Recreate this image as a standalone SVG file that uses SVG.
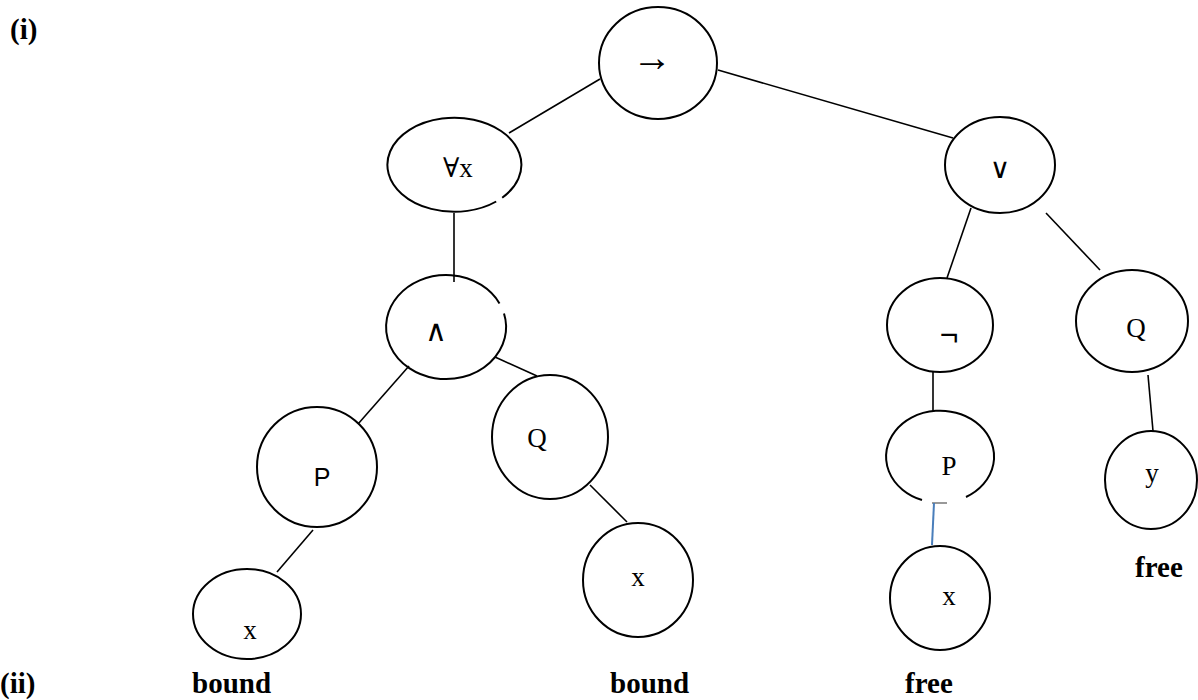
<svg xmlns="http://www.w3.org/2000/svg" width="1198" height="700" viewBox="0 0 1198 700">
<style>
.n{fill:none;stroke:#000;stroke-width:2}
.c line{stroke:#000;stroke-width:1.6}
.t{font-family:"Liberation Serif","DejaVu Serif",serif;font-size:27px;fill:#000}
.s{font-family:"Liberation Sans","DejaVu Sans",sans-serif;font-size:26px;fill:#000}
.lb{font-family:"Liberation Serif","DejaVu Serif",serif;font-size:29px;font-weight:bold;fill:#000}
</style>
<rect width="1198" height="700" fill="#fff"/>
<g id="connectors" class="c">
<line x1="600" y1="79" x2="509" y2="133"/>
<line x1="718" y1="70" x2="953" y2="138"/>
<line x1="454" y1="213" x2="454" y2="282"/>
<line x1="409" y1="366" x2="358" y2="424"/>
<line x1="495" y1="357" x2="537" y2="376"/>
<line x1="313" y1="530" x2="277" y2="572"/>
<line x1="590" y1="485" x2="627" y2="522"/>
<line x1="971" y1="208" x2="947" y2="278"/>
<line x1="1046" y1="213" x2="1100" y2="270"/>
<line x1="933" y1="372" x2="933" y2="412"/>
<line x1="1148" y1="375" x2="1153" y2="431"/>
<line x1="932" y1="503" x2="947" y2="503" style="stroke:#555;stroke-width:1.2"/>
<line x1="934" y1="503" x2="932" y2="545" style="stroke:#4a7ebb;stroke-width:2"/>
</g>
<g id="n-impl"><ellipse class="n" cx="658" cy="63" rx="59" ry="56"/><text class="t" x="652" y="71" text-anchor="middle" style="font-size:40px">→</text></g>
<g id="n-forall"><path class="n" d="M496.2,201.5 A67,47 0 1 1 502.2,197.7"/><text class="t" x="443" y="177">∀x</text></g>
<g id="n-or"><ellipse class="n" cx="1000" cy="165" rx="55" ry="48"/><text class="t" x="1000" y="178" text-anchor="middle" style="font-size:28px">∨</text></g>
<g id="n-and"><path class="n" d="M504,313.5 A60,52 0 1 1 499.5,303.4"/><text class="s" x="436" y="341" text-anchor="middle" style="font-size:30px">∧</text></g>
<g id="n-not"><ellipse class="n" cx="940" cy="325" rx="53" ry="47"/><text class="s" x="949" y="345" text-anchor="middle" style="font-size:32px">¬</text></g>
<g id="n-q2"><ellipse class="n" cx="1132" cy="321" rx="56" ry="51"/><text class="t" x="1136" y="337" text-anchor="middle">Q</text></g>
<g id="n-p1"><ellipse class="n" cx="317" cy="467" rx="60" ry="60"/><text class="s" x="322" y="486" text-anchor="middle" style="font-size:25px">P</text></g>
<g id="n-q1"><ellipse class="n" cx="550" cy="437" rx="58" ry="62"/><text class="t" x="537" y="447" text-anchor="middle">Q</text></g>
<g id="n-p2"><path class="n" d="M966,497 A54,46 0 1 0 922,500"/><text class="t" x="949" y="475" text-anchor="middle">P</text></g>
<g id="n-y"><ellipse class="n" cx="1151" cy="480" rx="46" ry="49"/><text class="t" x="1152" y="482" text-anchor="middle">y</text></g>
<g id="n-x1"><ellipse class="n" cx="247" cy="614" rx="54" ry="45"/><text class="t" x="250" y="639" text-anchor="middle">x</text></g>
<g id="n-x2"><ellipse class="n" cx="638" cy="580" rx="55" ry="57"/><text class="t" x="638" y="586" text-anchor="middle">x</text></g>
<g id="n-x3"><ellipse class="n" cx="940" cy="598" rx="50" ry="52"/><text class="t" x="949" y="605" text-anchor="middle">x</text></g>
<g id="labels">
<text class="lb" x="10" y="39">(i)</text>
<text class="lb" x="0" y="693">(ii)</text>
<text class="lb" x="192" y="693">bound</text>
<text class="lb" x="610" y="693">bound</text>
<text class="lb" x="905" y="693">free</text>
<text class="lb" x="1135" y="577">free</text>
</g>
</svg>
